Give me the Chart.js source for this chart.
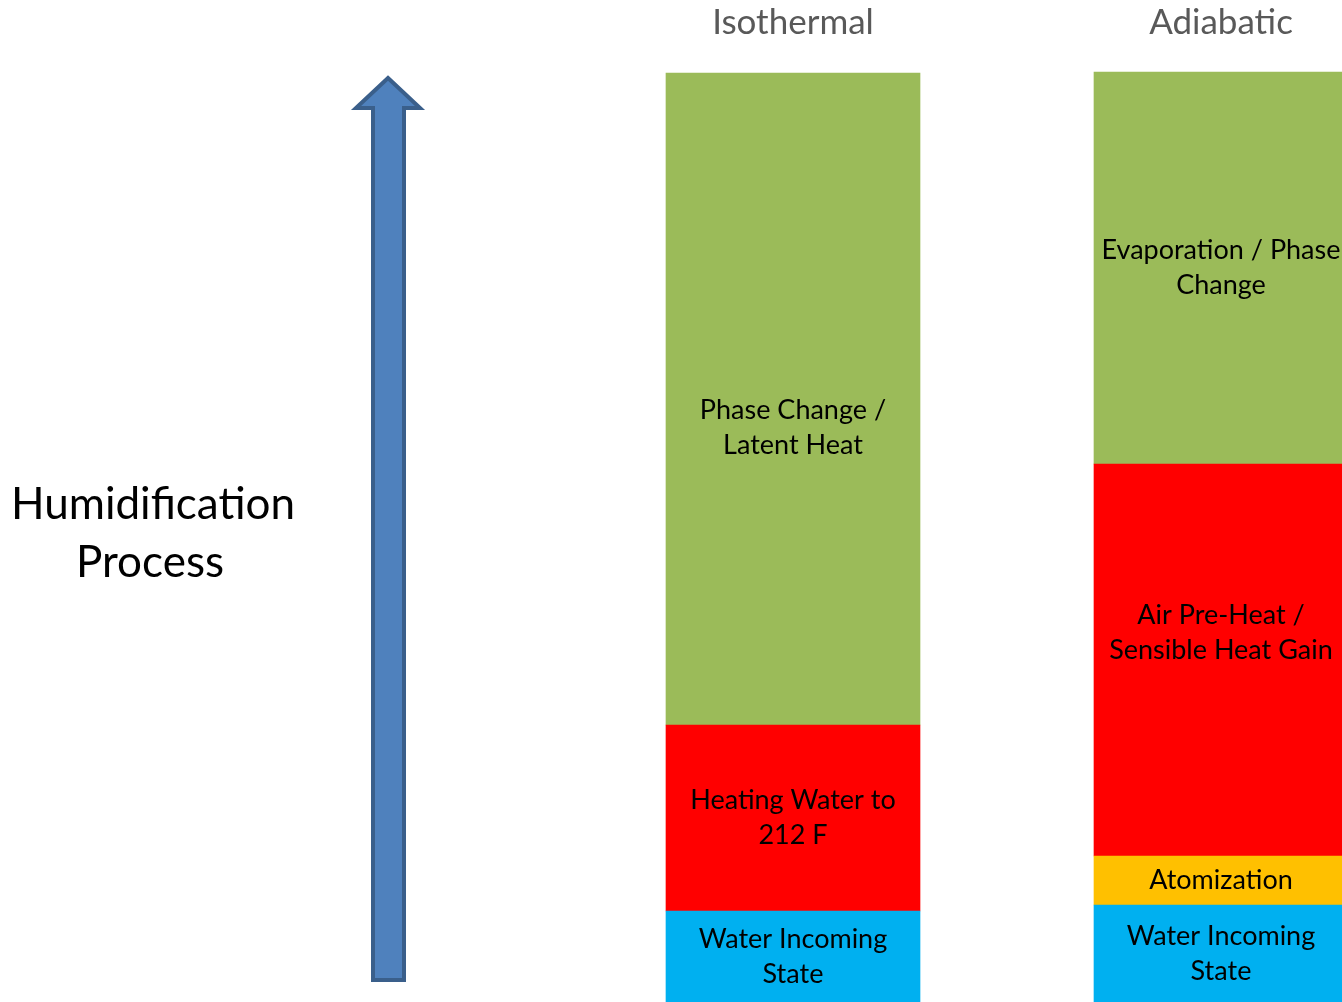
<!DOCTYPE html>
<html>
  <head>
    <title>Humidification Process</title>
    <script src="https://cdn.jsdelivr.net/npm/chart.js"></script>
    <style>
      body { margin: 0; background: #fff; overflow: hidden; }
    </style>
  </head>
  <body>
    <canvas id="processChart" width="1342" height="1002"></canvas>

    <script>
      // categories and stacked segment sizes (bottom to top)
      const categories = ["Isothermal", "Adiabatic"];
      const waterIncoming = [91, 97];
      const atomization = [null, 49];
      const heating = [186, 392];
      const phaseChange = [652, 392];
      const yMax = 956;

      const waterLabels = [["Water Incoming", "State"], ["Water Incoming", "State"]];
      const atomLabels = [null, ["Atomization"]];
      const heatLabels = [["Heating Water to", "212 F"], ["Air Pre-Heat /", "Sensible Heat Gain"]];
      const phaseLabels = [["Phase Change /", "Latent Heat"], ["Evaporation / Phase", "Change"]];

      const segmentText = {
        id: "segmentText",
        afterDatasetsDraw(chart) {
          const ctx = chart.ctx;
          ctx.save();
          ctx.font = "27px Lato";
          ctx.fillStyle = "#000";
          ctx.textAlign = "center";
          ctx.textBaseline = "middle";
          chart.data.datasets.forEach((ds, di) => {
            const meta = chart.getDatasetMeta(di);
            meta.data.forEach((bar, i) => {
              const lines = ds.segLabels[i];
              if (!lines || !ds.data[i]) return;
              const nudge = (ds.nudge && ds.nudge[i]) || 0;
              const cy = (bar.y + bar.base) / 2 + nudge;
              const lh = 35;
              const y0 = cy - ((lines.length - 1) * lh) / 2;
              lines.forEach((t, k) => ctx.fillText(t, bar.x, y0 + k * lh));
            });
          });
          ctx.restore();
        },
      };

      // big arrow and side caption
      const processArrow = {
        id: "processArrow",
        beforeDatasetsDraw(chart) {
          const ctx = chart.ctx;
          ctx.save();
          ctx.beginPath();
          ctx.moveTo(388, 78);
          ctx.lineTo(420, 108);
          ctx.lineTo(404, 108);
          ctx.lineTo(404, 980);
          ctx.lineTo(373, 980);
          ctx.lineTo(373, 108);
          ctx.lineTo(356, 108);
          ctx.closePath();
          ctx.fillStyle = "#4F81BD";
          ctx.fill();
          ctx.lineWidth = 4;
          ctx.strokeStyle = "#3A5F8B";
          ctx.stroke();

          ctx.font = "44px Lato";
          ctx.fillStyle = "#000";
          ctx.textAlign = "center";
          ctx.textBaseline = "middle";
          ctx.fillText("Humidification", 153, 505);
          ctx.fillText("Process", 150, 563);
          ctx.restore();
        },
      };

      const ctx = document.getElementById("processChart").getContext("2d");
      new Chart(ctx, {
        type: "bar",
        data: {
          labels: categories,
          datasets: [
            { label: "Water Incoming State", data: waterIncoming, backgroundColor: "#00B0F0", segLabels: waterLabels },
            { label: "Atomization", data: atomization, backgroundColor: "#FFC000", segLabels: atomLabels },
            { label: "Heating", data: heating, backgroundColor: "#FF0000", segLabels: heatLabels, nudge: [0, -27] },
            { label: "Phase Change", data: phaseChange, backgroundColor: "#9BBB59", segLabels: phaseLabels, nudge: [29, 0] },
          ],
        },
        options: {
          responsive: false,
          animation: false,
          layout: { padding: { left: 793, right: 121, top: 0, bottom: 0 } },
          datasets: { bar: { barThickness: 254, clip: false, borderWidth: 0 } },
          plugins: { legend: { display: false }, tooltip: { enabled: false } },
          scales: {
            x: {
              position: "top",
              stacked: true,
              offset: false,
              grid: { display: false, drawTicks: false },
              border: { display: false },
              ticks: { color: "#595959", font: { family: "Lato", size: 35 }, padding: 2, maxRotation: 0 },
            },
            y: {
              display: false,
              stacked: true,
              min: 0,
              max: yMax,
            },
          },
        },
        plugins: [processArrow, segmentText],
      });
    </script>
  </body>
</html>
